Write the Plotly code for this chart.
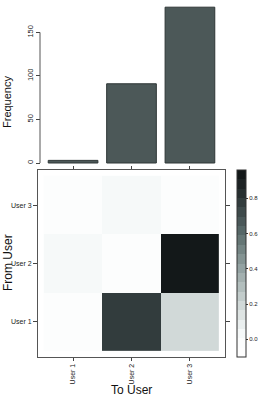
import plotly.graph_objects as go
import numpy as np

users = ["User 1", "User 2", "User 3"]
frequency = [3, 91, 179]
# rows: From User (User 1, User 2, User 3), cols: To User
transition = [
    [0.00, 0.80, 0.20],
    [0.03, 0.00, 0.94],
    [0.00, 0.03, 0.00],
]
bar_ticks = [0, 50, 100, 150]
cb_ticks = [0.0, 0.2, 0.4, 0.6, 0.8]

W, H = 266, 396
def px(x): return x / W
def py(y): return 1 - y / H

zmin, zmax = -0.1, 0.96
# anchor colours along the colour ramp
anchors_t = [0.0, 0.094, 0.14, 0.283, 0.47, 0.66, 0.849, 1.0]
anchors_c = ["#ffffff", "#fbfcfc", "#f3f7f7", "#cfd7d6", "#95a4a3", "#5a6b6b", "#2c3536", "#0e1213"]
def hex2rgb(h): return [int(h[i:i+2], 16) for i in (1, 3, 5)]
ac = np.array([hex2rgb(c) for c in anchors_c], float)
nb = 20
scale = []
for i in range(nb):
    tc = (i + 0.5) / nb
    rgb = [int(round(np.interp(tc, anchors_t, ac[:, k]))) for k in range(3)]
    col = "rgb(%d,%d,%d)" % tuple(rgb)
    scale.append([i / nb, col])
    scale.append([(i + 1) / nb, col])

font = "Liberation Sans, Arial, Helvetica, sans-serif"
fig = go.Figure()

fig.add_trace(go.Bar(
    x=[0, 1, 2], y=frequency, width=0.85,
    marker=dict(color="#4c5858", line=dict(color="#2e3636", width=1)),
    xaxis="x2", yaxis="y2", showlegend=False,
))

fig.add_trace(go.Heatmap(
    x=[0, 1, 2], y=[0, 1, 2], z=transition,
    zmin=zmin, zmax=zmax, colorscale=scale,
    xaxis="x", yaxis="y",
    colorbar=dict(
        x=px(237), xanchor="left", thickness=9,
        len=187 / H, lenmode="fraction", y=py(263.5), yanchor="middle", ypad=0, xpad=0,
        outlinecolor="#333333", outlinewidth=1,
        tickmode="array", tickvals=cb_ticks, ticktext=["%.1f" % v for v in cb_ticks],
        ticks="outside", ticklen=2, tickcolor="#333333",
        tickfont=dict(size=6, color="#222222", family=font),
    ),
))

xdom = [px(38), px(225)]
fig.update_layout(
    width=W, height=H, margin=dict(l=0, r=0, t=0, b=0, pad=0, autoexpand=False),
    paper_bgcolor="white", plot_bgcolor="white",
    font=dict(family=font, color="#111111"),
    xaxis=dict(domain=xdom, range=[-0.6, 2.6], anchor="y", automargin=False,
               tickvals=[0, 1, 2], ticktext=users, tickangle=-90,
               ticks="outside", ticklen=3, tickcolor="#444444",
               showline=True, linecolor="#555555", linewidth=1, mirror="ticks",
               showgrid=False, zeroline=False,
               tickfont=dict(size=7, color="#222222")),
    yaxis=dict(domain=[py(357), py(170)], range=[-0.6, 2.6], anchor="x", automargin=False,
               tickvals=[0, 1, 2], ticktext=users,
               ticks="outside", ticklen=4, tickcolor="#444444",
               showline=True, linecolor="#555555", linewidth=1, mirror="ticks",
               showgrid=False, zeroline=False,
               tickfont=dict(size=7, color="#222222")),
    xaxis2=dict(domain=xdom, range=[-0.6, 2.6], anchor="y2", automargin=False,
                showticklabels=False, ticks="", showline=False,
                showgrid=False, zeroline=False),
    yaxis2=dict(domain=[py(165), py(5)], range=[-2.3, 181.5], anchor="free",
                position=px(40), automargin=False,
                tickvals=bar_ticks, ticktext=[str(v) for v in bar_ticks],
                tickangle=-90, ticks="outside", ticklen=4, tickcolor="#444444",
                showline=False, showgrid=False, zeroline=False,
                tickfont=dict(size=7.5, color="#222222")),
    shapes=[dict(type="line", xref="paper", yref="y2",
                 x0=px(40), x1=px(40), y0=0, y1=150,
                 line=dict(color="#555555", width=1))],
    annotations=[
        dict(text="Frequency", x=px(7), y=py(102), xref="paper", yref="paper",
             xanchor="center", yanchor="middle",
             textangle=-90, showarrow=False, font=dict(size=11)),
        dict(text="From User", x=px(8), y=py(263), xref="paper", yref="paper",
             xanchor="center", yanchor="middle",
             textangle=-90, showarrow=False, font=dict(size=12)),
        dict(text="To User", x=px(131), y=py(389.5), xref="paper", yref="paper",
             xanchor="center", yanchor="middle",
             showarrow=False, font=dict(size=12)),
    ],
)

fig.write_html("out.html", config={"displayModeBar": False},
               post_script="document.body.style.margin='0px';")
